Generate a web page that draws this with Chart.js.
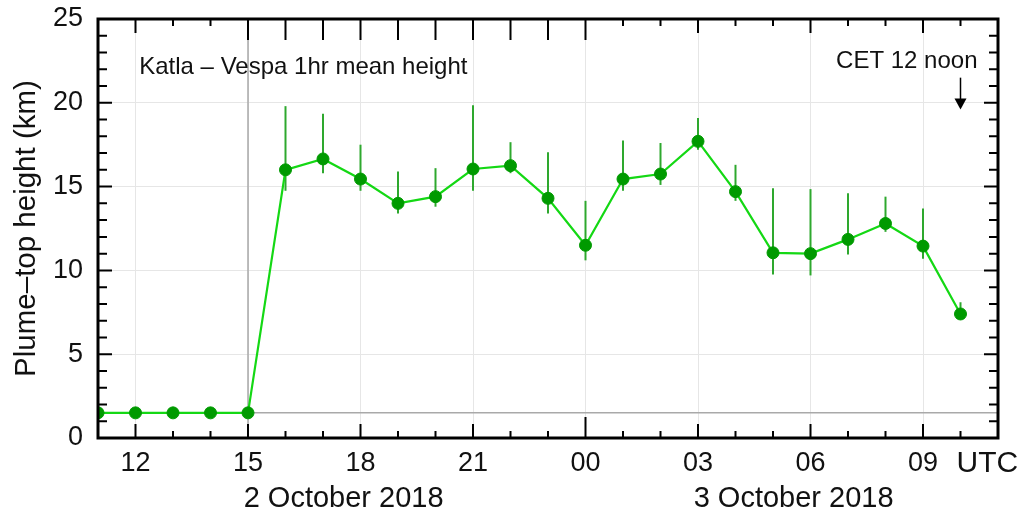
<!DOCTYPE html>
<html>
<head>
<meta charset="utf-8">
<script src="https://cdn.jsdelivr.net/npm/chart.js@4.4.1/dist/chart.umd.min.js"></script>
<style>
  html, body { margin: 0; background: #fff; }
  #wrap { width: 1031px; height: 516px; }
</style>
</head>
<body>
<div id="wrap"><canvas id="c"></canvas></div>
<script>
// hours since 00 UTC on 2 October 2018
const hours = [11, 12, 13, 14, 15, 16, 17, 18, 19, 20, 21, 22, 23, 24, 25, 26, 27, 28, 29, 30, 31, 32, 33, 34];
const heights = [1.5, 1.5, 1.5, 1.5, 1.5, 16.0, 16.65, 15.45, 14.0, 14.4, 16.05, 16.25, 14.3, 11.5, 15.45, 15.75, 17.7, 14.7, 11.05, 11.0, 11.85, 12.8, 11.45, 7.4];
const errLow = [null, null, null, null, null, 14.75, 15.8, 14.75, 13.4, 13.8, 14.75, 15.8, 13.4, 10.6, 14.75, 15.1, 17.2, 14.15, 9.75, 9.7, 10.95, 12.3, 10.7, 7.1];
const errHigh = [null, null, null, null, null, 19.8, 19.35, 17.5, 15.9, 16.1, 19.85, 17.65, 17.05, 14.15, 17.75, 17.6, 19.1, 16.3, 14.9, 14.85, 14.6, 14.4, 13.7, 8.1];

const onsetHour = 15;
const baseline = 1.5;
const noonHour = 34;
const dayLabels = ['2 October 2018', '3 October 2018'];
const dayLabelHours = [17.55, 29.55];
const title = 'Katla \u2013 Vespa 1hr mean height';
const noonText = 'CET 12 noon';
const yTitle = 'Plume\u2013top height (km)';

const FONT = '"Liberation Sans", Arial, Helvetica, sans-serif';
const hourLabel = v => String(v % 24).padStart(2, '0');

const extras = {
    id: 'extras',
    beforeDatasetsDraw(chart) {
        const { ctx, chartArea: a, scales: { x, y } } = chart;
        ctx.save();
        ctx.strokeStyle = '#a9a9a9';
        ctx.lineWidth = 1.5;
        const xs = x.getPixelForValue(onsetHour);
        ctx.beginPath(); ctx.moveTo(xs, a.top); ctx.lineTo(xs, a.bottom); ctx.stroke();
        const yb = y.getPixelForValue(baseline);
        ctx.beginPath(); ctx.moveTo(a.left, yb); ctx.lineTo(a.right, yb); ctx.stroke();

        // error bars
        ctx.strokeStyle = '#2ea82e';
        ctx.lineWidth = 2;
        hours.forEach((h, i) => {
            if (errLow[i] == null) return;
            const px = x.getPixelForValue(h);
            ctx.beginPath();
            ctx.moveTo(px, y.getPixelForValue(errLow[i]));
            ctx.lineTo(px, y.getPixelForValue(errHigh[i]));
            ctx.stroke();
        });
        ctx.restore();
    },
    afterDraw(chart) {
        const { ctx, chartArea: a, scales: { x, y } } = chart;
        ctx.save();
        // inward ticks on all sides
        ctx.strokeStyle = '#000';
        ctx.lineWidth = 2;
        for (let h = x.min + 1; h < x.max; h++) {
            const px = x.getPixelForValue(h);
            const major = h % 3 === 0;
            const lb = h === 24 ? 21 : major ? 14 : 7;
            const lt = (h >= 15 && h <= 24) ? 21 : major ? 14 : 7;
            ctx.beginPath();
            ctx.moveTo(px, a.bottom); ctx.lineTo(px, a.bottom - lb);
            ctx.moveTo(px, a.top); ctx.lineTo(px, a.top + lt);
            ctx.stroke();
        }
        for (let v = y.min + 1; v < y.max; v++) {
            const py = y.getPixelForValue(v);
            const len = v % 5 === 0 ? 14 : 9;
            ctx.beginPath();
            ctx.moveTo(a.left, py); ctx.lineTo(a.left + len, py);
            ctx.moveTo(a.right, py); ctx.lineTo(a.right - len, py);
            ctx.stroke();
        }
        // frame
        ctx.lineWidth = 3;
        ctx.strokeRect(a.left, a.top, a.right - a.left, a.bottom - a.top);

        // texts
        ctx.fillStyle = '#111';
        ctx.textBaseline = 'middle';
        ctx.font = '24px ' + FONT;
        ctx.textAlign = 'left';
        ctx.fillText(title, x.getPixelForValue(12.1), y.getPixelForValue(22.1));
        ctx.textAlign = 'right';
        const nx = x.getPixelForValue(noonHour);
        ctx.fillText(noonText, nx + 17, y.getPixelForValue(22.5));

        // arrow
        const y1 = y.getPixelForValue(21.5), y2 = y.getPixelForValue(19.6);
        ctx.lineWidth = 1.5;
        ctx.beginPath(); ctx.moveTo(nx, y1); ctx.lineTo(nx, y2 - 9); ctx.stroke();
        ctx.fillStyle = '#000';
        ctx.beginPath();
        ctx.moveTo(nx - 6, y2 - 11); ctx.lineTo(nx + 6, y2 - 11); ctx.lineTo(nx, y2);
        ctx.closePath(); ctx.fill();

        ctx.fillStyle = '#111';
        ctx.font = '29px ' + FONT;
        ctx.textAlign = 'center';
        dayLabels.forEach((t, i) => ctx.fillText(t, x.getPixelForValue(dayLabelHours[i]), a.bottom + 61));
        ctx.font = '30px ' + FONT;
        ctx.textAlign = 'left';
        ctx.fillText('UTC', x.getPixelForValue(noonHour) - 4, a.bottom + 26);
        ctx.restore();
    }
};

new Chart(document.getElementById('c').getContext('2d'), {
    type: 'line',
    data: {
        datasets: [{
            data: hours.map((h, i) => ({ x: h, y: heights[i] })),
            borderColor: '#14d814',
            borderWidth: 2.2,
            pointRadius: 6,
            pointBackgroundColor: '#009a00',
            pointBorderColor: '#009a00',
            pointBorderWidth: 1,
            clip: 0,
        }]
    },
    options: {
        responsive: true,
        maintainAspectRatio: false,
        animation: false,
        layout: { padding: { left: 0, top: 19, right: 33, bottom: 0 } },
        plugins: {
            legend: { display: false },
            tooltip: { enabled: false },
        },
        scales: {
            x: {
                type: 'linear',
                min: 11,
                max: 35,
                afterFit: s => { s.height = 78; s.paddingLeft = 0; s.paddingRight = 0; },
                border: { display: false },
                grid: {
                    drawTicks: false,
                    color: c => (c.tick && c.tick.value % 3 === 0) ? '#e6e6e6' : 'rgba(0,0,0,0)',
                    lineWidth: 1,
                },
                ticks: {
                    stepSize: 1,
                    autoSkip: false,
                    maxRotation: 0,
                    padding: 9,
                    color: '#111',
                    font: { family: FONT, size: 27 },
                    callback: v => (v % 3 === 0 && v < 35) ? hourLabel(v) : '',
                },
            },
            y: {
                min: 0,
                max: 25,
                afterFit: s => { s.width = 98; s.paddingTop = 0; s.paddingBottom = 0; },
                border: { display: false },
                grid: {
                    drawTicks: false,
                    color: c => (c.tick && c.tick.value % 5 === 0) ? '#e6e6e6' : 'rgba(0,0,0,0)',
                    lineWidth: 1,
                },
                ticks: {
                    stepSize: 1,
                    autoSkip: false,
                    padding: 15,
                    color: '#111',
                    font: { family: FONT, size: 27 },
                    callback: v => v % 5 === 0 ? v : '',
                },
                title: {
                    display: true,
                    text: yTitle,
                    color: '#111',
                    padding: { top: 9, bottom: 0 },
                    font: { family: FONT, size: 29.5 },
                },
            },
        },
    },
    plugins: [extras],
});
</script>
</body>
</html>
